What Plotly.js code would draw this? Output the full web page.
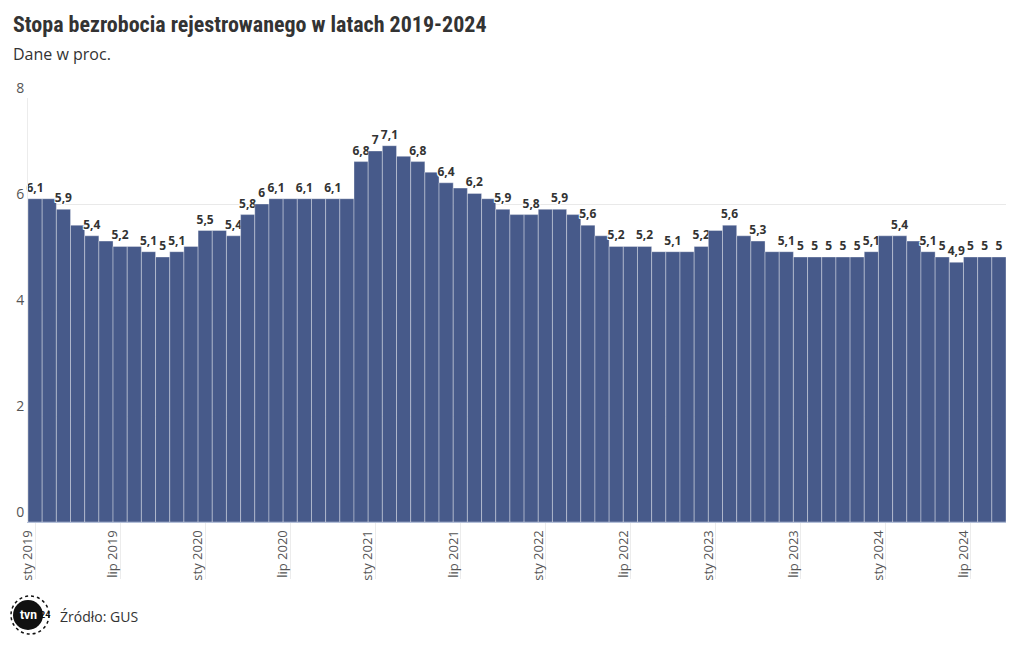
<!DOCTYPE html>
<html>
<head>
<meta charset="utf-8">
<script src="https://cdn.plot.ly/plotly-3.0.1.min.js"></script>
<style>
  html, body { margin: 0; padding: 0; background: #fff; }
  #chart { width: 1020px; height: 650px; }
</style>
</head>
<body>
<div id="chart"></div>
<script>
// ---- data ----
const startYear = 2019;
// registered unemployment rate, monthly, Jan 2019 - Sep 2024 (%)
const rate = [
  6.1, 6.1, 5.9, 5.6, 5.4, 5.3, 5.2, 5.2, 5.1, 5.0, 5.1, 5.2,
  5.5, 5.5, 5.4, 5.8, 6.0, 6.1, 6.1, 6.1, 6.1, 6.1, 6.1, 6.8,
  7.0, 7.1, 6.9, 6.8, 6.6, 6.4, 6.3, 6.2, 6.1, 5.9, 5.8, 5.8,
  5.9, 5.9, 5.8, 5.6, 5.4, 5.2, 5.2, 5.2, 5.1, 5.1, 5.1, 5.2,
  5.5, 5.6, 5.4, 5.3, 5.1, 5.1, 5.0, 5.0, 5.0, 5.0, 5.0, 5.1,
  5.4, 5.4, 5.3, 5.1, 5.0, 4.9, 5.0, 5.0, 5.0
];
// which bars carry a value label
const labelled = [0,2,4,6,8,9,10,12,14,15,16,17,19,21,23,24,25,27,29,31,33,35,37,39,41,43,45,47,49,51,53,54,55,56,57,58,59,61,63,64,65,66,67,68];
const tickText = ['sty 2019','lip 2019','sty 2020','lip 2020','sty 2021','lip 2021',
                  'sty 2022','lip 2022','sty 2023','lip 2023','sty 2024','lip 2024'];

const months = rate.map((_, i) =>
  (startYear + Math.floor(i / 12)) + '-' + String(i % 12 + 1).padStart(2, '0'));
const tickVals = months.filter((_, i) => i % 6 === 0);
const labelSet = new Set(labelled);
const texts = rate.map((v, i) => labelSet.has(i) ? String(v).replace('.', ',') : '');

const halo = '-1px -1px 0 #fff, 1px -1px 0 #fff, -1px 1px 0 #fff, 1px 1px 0 #fff';

const trace = {
  type: 'bar',
  x: months,
  y: rate,
  text: texts,
  textposition: 'outside',
  constraintext: 'none',
  cliponaxis: false,
  textfont: { family: 'Open Sans, sans-serif', size: 12, color: '#333', weight: 'bold', shadow: halo },
  marker: { color: '#475a8a', line: { color: 'rgba(255,255,255,0.35)', width: 1 } },
  hoverinfo: 'x+y'
};

const layout = {
  width: 1020, height: 650,
  margin: { l: 28, r: 14, t: 98, b: 128 },
  paper_bgcolor: '#fff', plot_bgcolor: '#fff',
  bargap: 0,
  showlegend: false,
  font: { family: 'Open Sans, sans-serif', color: '#333' },
  xaxis: {
    type: 'category',
    range: [-0.5, rate.length - 0.5],
    tickvals: tickVals,
    ticktext: tickText,
    tickangle: -90,
    ticks: 'outside',
    ticklen: 56,
    tickcolor: '#ececec',
    tickwidth: 1,
    ticklabelstandoff: -54,
    ticklabelshift: -7,
    tickfont: { family: 'Open Sans, sans-serif', size: 13, color: '#555' },
    showgrid: false,
    showline: true,
    linecolor: '#b3bfd8',
    linewidth: 1,
    fixedrange: true
  },
  yaxis: {
    range: [0, 8],
    dtick: 2,
    tick0: 0,
    showgrid: true,
    gridcolor: '#e9e9e9',
    zeroline: false,
    showline: true,
    linecolor: '#ececec',
    ticks: '',
    ticklabelposition: 'outside top',
    tickfont: { family: 'Open Sans, sans-serif', size: 14, color: '#555' },
    fixedrange: true
  },
  annotations: [
    { text: '<b>Stopa bezrobocia rejestrowanego w latach 2019-2024</b>', xref: 'paper', yref: 'paper',
      x: -17/978, y: 1 + (98 - 24)/424, xanchor: 'left', yanchor: 'middle', showarrow: false,
      font: { family: 'Liberation Sans Narrow, Roboto Condensed, Roboto, sans-serif', size: 22, color: '#333' } },
    { text: 'Dane w proc.', xref: 'paper', yref: 'paper',
      x: -17/978, y: 1 + (98 - 54)/424, xanchor: 'left', yanchor: 'middle', showarrow: false,
      font: { family: 'Open Sans, sans-serif', size: 16, color: '#333' } },
    { text: 'Źródło: GUS', xref: 'paper', yref: 'paper',
      x: 30/978, y: -(616 - 522)/424, xanchor: 'left', yanchor: 'middle', showarrow: false,
      font: { family: 'Open Sans, sans-serif', size: 14, color: '#333' } },
    { text: '<b>tvn</b>', xref: 'paper', yref: 'paper',
      x: (28 - 28)/978, y: -(615 - 522)/424, xanchor: 'center', yanchor: 'middle', showarrow: false,
      font: { family: 'Roboto, sans-serif', size: 12, color: '#fff' } },
    { text: '<b>24</b>', xref: 'paper', yref: 'paper',
      x: (45 - 28)/978, y: -(615 - 522)/424, xanchor: 'center', yanchor: 'middle', showarrow: false,
      font: { family: 'Roboto, sans-serif', size: 9, color: '#111' } }
  ],
  shapes: [
    { type: 'circle', xref: 'paper', yref: 'paper',
      x0: (13 - 28)/978, x1: (43 - 28)/978, y0: -(630 - 522)/424, y1: -(600 - 522)/424,
      fillcolor: '#111', line: { width: 0 }, layer: 'below' },
    { type: 'circle', xref: 'paper', yref: 'paper',
      x0: (11 - 28)/978, x1: (49 - 28)/978, y0: -(634 - 522)/424, y1: -(596 - 522)/424,
      fillcolor: 'rgba(0,0,0,0)', line: { width: 1.5, color: '#111', dash: 'dot' }, layer: 'below' }
  ]
};

Plotly.newPlot('chart', [trace], layout, { displayModeBar: false, staticPlot: true });
</script>
</body>
</html>
